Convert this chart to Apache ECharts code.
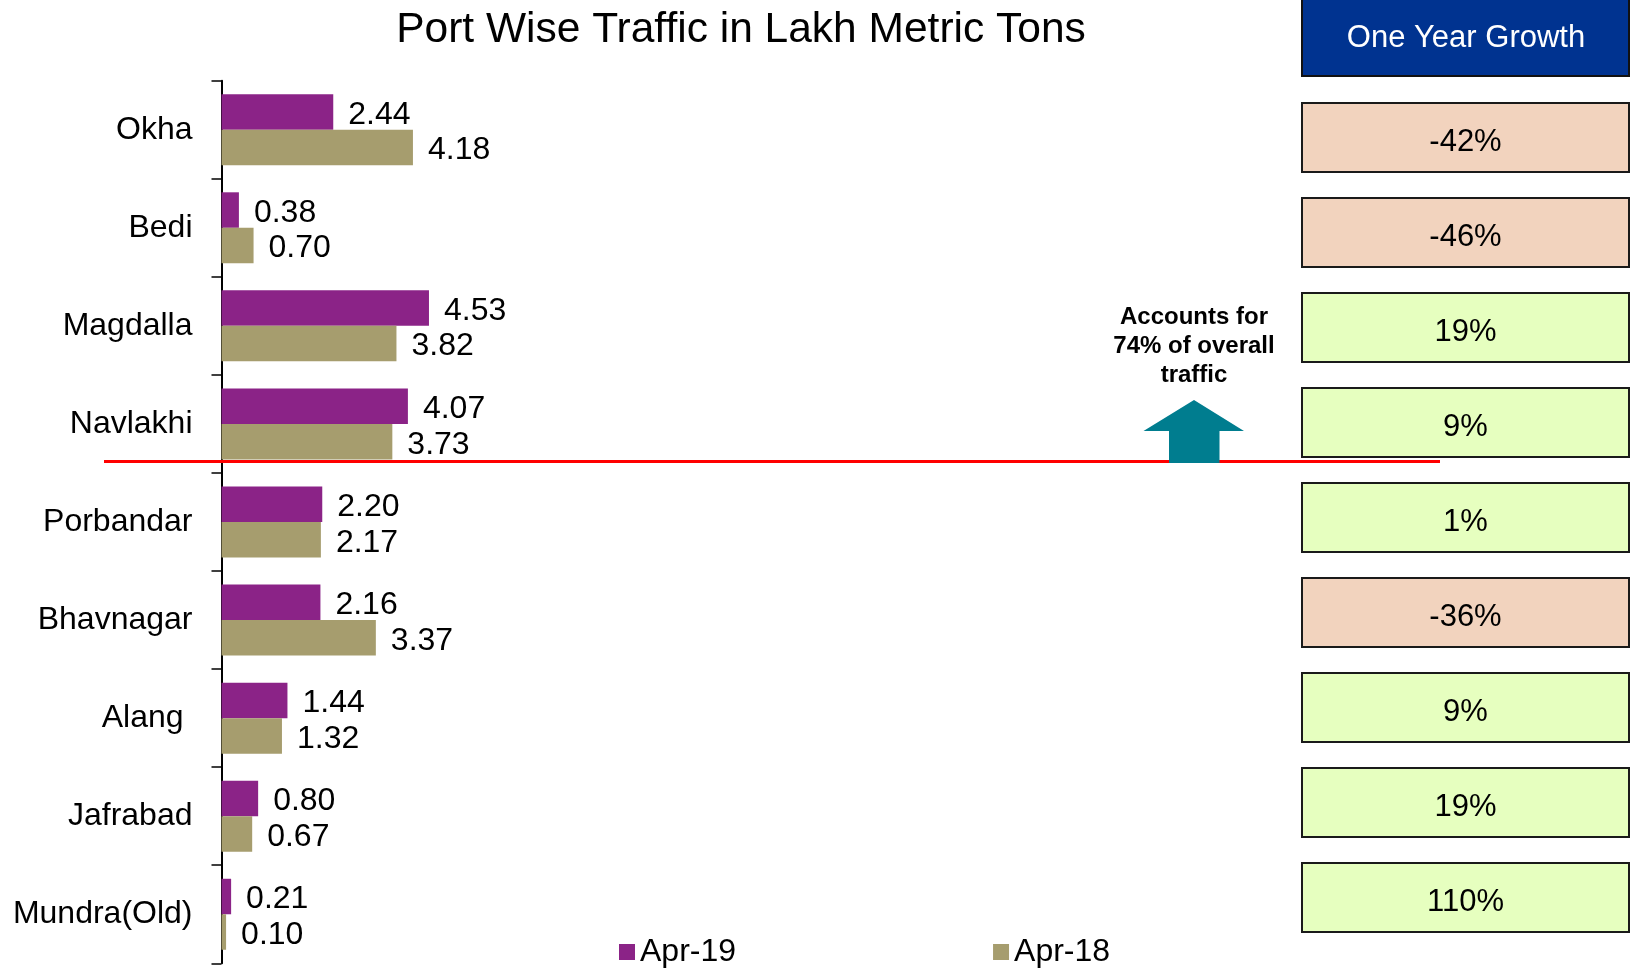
<!DOCTYPE html>
<html>
<head>
<meta charset="utf-8">
<script src="https://cdn.jsdelivr.net/npm/echarts@6/dist/echarts.min.js"></script>
<style>
html,body{margin:0;padding:0;background:#fff;}
#c{width:1631px;height:970px;}
</style>
</head>
<body>
<div id="c"></div>
<script>
const ports = ['Okha', 'Bedi', 'Magdalla', 'Navlakhi', 'Porbandar', 'Bhavnagar', 'Alang ', 'Jafrabad', 'Mundra(Old)'];
const apr19 = [2.44, 0.38, 4.53, 4.07, 2.20, 2.16, 1.44, 0.80, 0.21];
const apr18 = [4.18, 0.70, 3.82, 3.73, 2.17, 3.37, 1.32, 0.67, 0.10];
const growth = [-42, -46, 19, 9, 1, -36, 9, 19, 110];
const seriesNames = ['Apr-19', 'Apr-18'];
const titleText = 'Port Wise Traffic in Lakh Metric Tons';
const headerText = 'One Year Growth';
const noteLines = ['Accounts for', '74% of overall', 'traffic'];

const FONT = '"Liberation Sans", Arial, sans-serif';
const PURPLE = '#8B2387';
const BEIGE = '#A69D6E';

const chart = echarts.init(document.getElementById('c'), null, {renderer: 'canvas'});

const valueLabel = {
  show: true,
  position: 'right',
  distance: 15,
  offset: [0, 3],
  fontSize: 32,
  fontFamily: FONT,
  color: '#000',
  formatter: p => Number(p.value).toFixed(2)
};

chart.setOption({
  backgroundColor: '#fff',
  animation: false,
  title: {
    text: titleText,
    left: 736,
    top: 4,
    textAlign: 'center',
    textStyle: {fontSize: 42.5, fontWeight: 'normal', color: '#000', fontFamily: FONT}
  },
  legend: {
    data: seriesNames,
    left: 614,
    top: 931,
    icon: 'rect',
    itemWidth: 16,
    itemHeight: 16,
    itemGap: 257,
    textStyle: {fontSize: 32, color: '#000', fontFamily: FONT}
  },
  grid: [
    {left: 221.5, right: 951.5, top: 80.7, bottom: 6.7, containLabel: false},
    {left: 1302, right: 1, top: 90, bottom: 25, containLabel: false}
  ],
  xAxis: [
    {type: 'value', gridIndex: 0, min: 0, max: 10, show: false},
    {type: 'value', gridIndex: 1, min: 0, max: 1, show: false}
  ],
  yAxis: [
    {
      type: 'category', gridIndex: 0, data: ports, inverse: true,
      axisLine: {show: true, lineStyle: {color: '#000', width: 2}},
      axisTick: {show: true, length: 10, lineStyle: {color: '#000', width: 1.5}},
      axisLabel: {fontSize: 32, color: '#000', fontFamily: FONT, margin: 29, padding: [5, 0, 0, 0]},
      splitLine: {show: false}
    },
    {type: 'category', gridIndex: 1, data: ports, inverse: true, show: false}
  ],
  series: [
    {
      name: seriesNames[0], type: 'bar', xAxisIndex: 0, yAxisIndex: 0,
      data: apr19, barGap: '0%', barCategoryGap: '27.6%',
      itemStyle: {color: PURPLE},
      label: valueLabel
    },
    {
      name: seriesNames[1], type: 'bar', xAxisIndex: 0, yAxisIndex: 0,
      data: apr18, barGap: '0%', barCategoryGap: '27.6%',
      itemStyle: {color: BEIGE},
      label: valueLabel
    },
    {
      name: 'growth', type: 'custom', xAxisIndex: 1, yAxisIndex: 1,
      data: growth.map((g, i) => [0, ports[i], g]),
      encode: {x: 0, y: 1},
      renderItem: function (params, api) {
        const cs = params.coordSys;
        const c = api.coord([0, api.value(1)]);
        const h = api.size([0, 1])[1] * 0.726;
        const g = api.value(2);
        return {
          type: 'rect',
          shape: {x: cs.x, y: c[1] - h / 2, width: cs.width - 1, height: h},
          style: {fill: g < 0 ? '#F2D3BE' : '#E6FFBF', stroke: '#1a1a1a', lineWidth: 2},
          textContent: {
            style: {text: g + '%', fontSize: 31, fontFamily: FONT, fill: '#000'}
          },
          textConfig: {position: 'inside', offset: [0, 5]}
        };
      }
    }
  ],
  graphic: [
    {
      type: 'rect', z: 10,
      shape: {x: 1302, y: -2, width: 327, height: 78},
      style: {fill: '#003390', stroke: '#111', lineWidth: 2}
    },
    {
      type: 'text', z: 11, x: 1466, y: 38,
      style: {text: headerText, fontSize: 31, fontFamily: FONT, fill: '#fff', align: 'center', verticalAlign: 'middle'}
    },
    {
      type: 'line', z: 5,
      shape: {x1: 104, y1: 461.5, x2: 1440, y2: 461.5},
      style: {stroke: '#FF0000', lineWidth: 3}
    },
    {
      type: 'polygon', z: 6,
      shape: {points: [[1194, 400], [1244, 431], [1219.5, 431], [1219.5, 463], [1169, 463], [1169, 431], [1143.5, 431]]},
      style: {fill: '#007D8F'}
    },
    {
      type: 'text', z: 11, x: 1194, y: 303,
      style: {text: noteLines.join('\n'), fontSize: 24, fontWeight: 'bold', fontFamily: FONT, fill: '#000', align: 'center', verticalAlign: 'top', lineHeight: 29}
    }
  ]
});
</script>
</body>
</html>
